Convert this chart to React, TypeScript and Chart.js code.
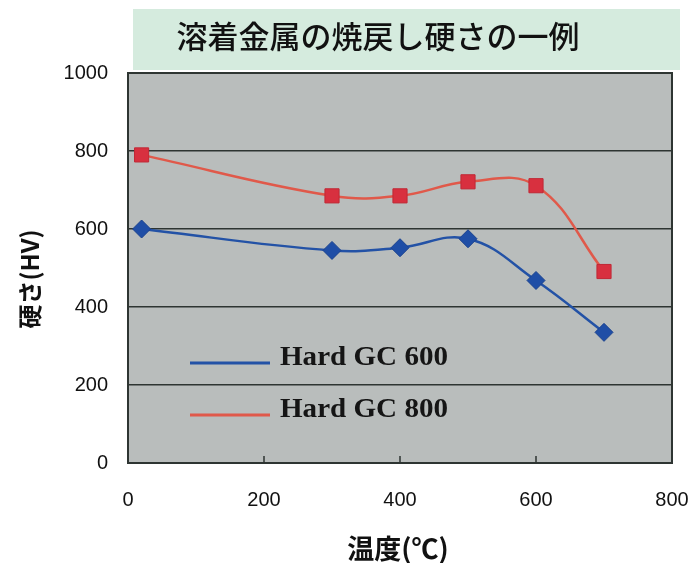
import React, { useEffect, useRef } from "react";
import { Chart, registerables } from "chart.js";

Chart.register(...registerables);

const temperatures = [20, 300, 400, 500, 600, 700];
const hardGC600 = [600, 545, 552, 575, 468, 335];
const hardGC800 = [790, 685, 685, 721, 711, 491];
const seriesNames = ["Hard GC 600", "Hard GC 800"];
const xMin = 0;
const xMax = 800;
const xStep = 200;
const yMin = 0;
const yMax = 1000;
const yStep = 200;
const chartTitle = "溶着金属の焼戻し硬さの一例";
const xTitle = "温度(℃)";
const yTitle = "硬さ(HV)";

const BLUE_LINE = "#2352a6";
const BLUE_POINT = "#1f4ea6";
const RED_LINE = "#e0594a";
const RED_POINT = "#d8303f";
const PLOT_BG = "#b9bdbc";
const TITLE_BG = "#d5ebde";
const GRID = "#2e3532";

const decorPlugin = {
  id: "decor",
  beforeDraw(chart: any) {
    const { ctx, chartArea } = chart;
    ctx.save();
    ctx.fillStyle = "#ffffff";
    ctx.fillRect(0, 0, chart.width, chart.height);
    ctx.fillStyle = TITLE_BG;
    ctx.fillRect(133, 9, 547, 61);
    ctx.fillStyle = "#111";
    ctx.font = '500 31px "Noto Sans CJK JP"';
    ctx.textAlign = "center";
    ctx.textBaseline = "middle";
    ctx.fillText(chartTitle, 378, 36);
    ctx.fillStyle = PLOT_BG;
    ctx.fillRect(chartArea.left, chartArea.top, chartArea.right - chartArea.left, chartArea.bottom - chartArea.top);
    ctx.restore();
  },
  afterDraw(chart: any) {
    const { ctx, chartArea, scales } = chart;
    ctx.save();
    ctx.strokeStyle = GRID;
    ctx.lineWidth = 2;
    ctx.strokeRect(chartArea.left, chartArea.top, chartArea.right - chartArea.left, chartArea.bottom - chartArea.top);
    ctx.lineWidth = 1.5;
    for (let v = xMin + xStep; v < xMax; v += xStep) {
      const x = scales.x.getPixelForValue(v);
      ctx.beginPath();
      ctx.moveTo(x, chartArea.bottom);
      ctx.lineTo(x, chartArea.bottom - 7);
      ctx.stroke();
    }
    const items = [
      { name: seriesNames[0], color: BLUE_LINE, y: 363 },
      { name: seriesNames[1], color: RED_LINE, y: 415 },
    ];
    ctx.font = 'bold 27px "Liberation Serif"';
    ctx.textAlign = "left";
    ctx.textBaseline = "alphabetic";
    for (const it of items) {
      ctx.strokeStyle = it.color;
      ctx.lineWidth = 3;
      ctx.beginPath();
      ctx.moveTo(190, it.y);
      ctx.lineTo(270, it.y);
      ctx.stroke();
      ctx.fillStyle = "#151515";
      const w = ctx.measureText(it.name).width;
      ctx.save();
      ctx.translate(280, it.y + 2);
      ctx.scale(168 / w, 1);
      ctx.fillText(it.name, 0, 0);
      ctx.restore();
    }
    ctx.fillStyle = "#111";
    ctx.font = 'bold 24px "Noto Sans CJK JP"';
    ctx.textAlign = "center";
    ctx.textBaseline = "middle";
    ctx.save();
    ctx.translate(30, 279);
    ctx.rotate(-Math.PI / 2);
    ctx.fillText(yTitle, 0, 0);
    ctx.restore();
    ctx.font = 'bold 27px "Noto Sans CJK JP"';
    ctx.fillText(xTitle, 398, 549);
    ctx.restore();
  },
};

export default function App() {
  const ref = useRef<HTMLCanvasElement | null>(null);
  useEffect(() => {
    if (!ref.current) return;
    const chart = new Chart(ref.current, {
      type: "line",
      data: {
        datasets: [
          {
            label: seriesNames[0],
            data: temperatures.map((t, i) => ({ x: t, y: hardGC600[i] })),
            borderColor: BLUE_LINE,
            backgroundColor: BLUE_POINT,
            borderWidth: 2.5,
            pointStyle: "rectRot",
            pointRadius: 9,
            pointBorderColor: "#1a428f",
            pointBorderWidth: 1,
            tension: 0.4,
            fill: false,
          },
          {
            label: seriesNames[1],
            data: temperatures.map((t, i) => ({ x: t, y: hardGC800[i] })),
            borderColor: RED_LINE,
            backgroundColor: RED_POINT,
            borderWidth: 2.5,
            pointStyle: "rect",
            pointRadius: 10,
            pointBorderColor: "#c02835",
            pointBorderWidth: 1,
            tension: 0.4,
            fill: false,
          },
        ],
      },
      options: {
        responsive: false,
        animation: false,
        layout: { padding: { top: 73, right: 22, left: 0, bottom: 0 } },
        plugins: { legend: { display: false }, tooltip: { enabled: false }, title: { display: false } },
        scales: {
          x: {
            type: "linear",
            min: xMin,
            max: xMax,
            ticks: {
              stepSize: xStep,
              color: "#111",
              font: { family: "Liberation Sans", size: 20 },
              padding: 25,
              callback: (v: any) => String(v),
            },
            grid: { display: false, drawTicks: false },
            border: { display: false },
            afterFit: (s: any) => {
              s.height = 100;
              s.paddingRight = 0;
              s.paddingLeft = 0;
            },
          },
          y: {
            min: yMin,
            max: yMax,
            ticks: {
              stepSize: yStep,
              color: "#111",
              font: { family: "Liberation Sans", size: 20 },
              padding: 20,
              callback: (v: any) => String(v),
            },
            grid: {
              drawTicks: false,
              color: (c: any) => (c.tick && (c.tick.value === yMin || c.tick.value === yMax) ? "rgba(0,0,0,0)" : GRID),
              lineWidth: 1.5,
            },
            border: { display: false },
            afterFit: (s: any) => {
              s.width = 128;
              s.paddingTop = 0;
              s.paddingBottom = 0;
            },
          },
        },
      },
      plugins: [decorPlugin],
    });
    return () => chart.destroy();
  }, []);
  return (
    <div style={{ position: "absolute", left: 0, top: 0, width: 694, height: 563, background: "#fff" }}>
      <canvas ref={ref} width={694} height={563} style={{ display: "block" }} />
    </div>
  );
}
